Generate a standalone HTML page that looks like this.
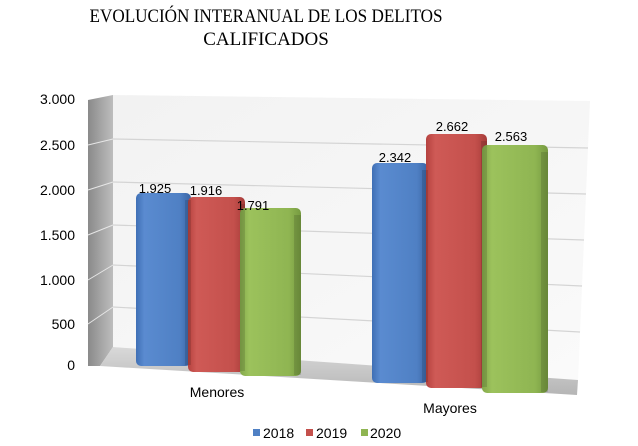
<!DOCTYPE html>
<html><head><meta charset="utf-8"><style>body{margin:0;background:#fff}svg{display:block}</style></head><body>
<svg width="638" height="446" viewBox="0 0 638 446" xmlns="http://www.w3.org/2000/svg">
<defs>
<linearGradient id="side" x1="0" x2="1"><stop offset="0" stop-color="#8a8a8a"/><stop offset="1" stop-color="#bdbdbd"/></linearGradient>
<linearGradient id="wall" x1="0" x2="1" y1="0" y2="1"><stop offset="0" stop-color="#f2f2f2"/><stop offset="1" stop-color="#fafafa"/></linearGradient>
<linearGradient id="floor" x1="0" x2="0" y1="0" y2="1"><stop offset="0" stop-color="#d9d9d9"/><stop offset="1" stop-color="#b5b5b5"/></linearGradient>
<linearGradient id="gb" x1="0" x2="1"><stop offset="0" stop-color="#3f6fb5"/><stop offset=".15" stop-color="#5a8bd0"/><stop offset=".8" stop-color="#4f80c4"/><stop offset="1" stop-color="#3a64a4"/></linearGradient>
<linearGradient id="gr" x1="0" x2="1"><stop offset="0" stop-color="#b5423f"/><stop offset=".15" stop-color="#cf5a56"/><stop offset=".8" stop-color="#c4504c"/><stop offset="1" stop-color="#a63c39"/></linearGradient>
<linearGradient id="gg" x1="0" x2="1"><stop offset="0" stop-color="#83a84a"/><stop offset=".15" stop-color="#9cc25c"/><stop offset=".8" stop-color="#8fb552"/><stop offset="1" stop-color="#769a40"/></linearGradient>
</defs>
<text x="266" y="22" text-anchor="middle" font-family="Liberation Serif, serif" font-size="19" textLength="353" lengthAdjust="spacingAndGlyphs">EVOLUCIÓN INTERANUAL DE LOS DELITOS</text>
<text x="266" y="45" text-anchor="middle" font-family="Liberation Serif, serif" font-size="19">CALIFICADOS</text>
<!-- walls -->
<polygon points="113,95 590,101 578,380 113,347" fill="url(#wall)"/>
<polygon points="88,100 113,95 113,347 100,366 88,366" fill="url(#side)"/>
<polygon points="113,347 578,380 577,395 100,366" fill="url(#floor)"/>
<g stroke="#d4d4d4" stroke-width="1.2" fill="none">
<line x1="113" y1="139" x2="588" y2="148"/>
<line x1="113" y1="182" x2="586" y2="194"/>
<line x1="113" y1="225" x2="584" y2="240"/>
<line x1="113" y1="265" x2="582" y2="286"/>
<line x1="113" y1="307" x2="580" y2="332"/>
</g>
<g stroke="#e6e6e6" stroke-width="1">
<line x1="88" y1="145" x2="113" y2="139"/><line x1="88" y1="190" x2="113" y2="182"/><line x1="88" y1="235" x2="113" y2="225"/><line x1="88" y1="280" x2="113" y2="265"/><line x1="88" y1="324" x2="113" y2="307"/>
</g>
<g font-family="Liberation Sans, sans-serif" font-size="14" fill="#000" text-anchor="end">
<text x="75" y="104">3.000</text><text x="75" y="150">2.500</text><text x="75" y="195">2.000</text><text x="75" y="240">1.500</text><text x="75" y="285">1.000</text><text x="75" y="329">500</text><text x="75" y="370">0</text>
</g>
<!-- bars -->
<g>
<rect x="136" y="193" width="55" height="173" rx="5" fill="url(#gb)"/>
<rect x="188" y="197" width="57" height="175" rx="5" fill="url(#gr)"/>
<rect x="240" y="208" width="61" height="168" rx="5" fill="url(#gg)"/>
<rect x="372" y="163" width="56" height="220" rx="5" fill="url(#gb)"/>
<rect x="426" y="134" width="61" height="254" rx="5" fill="url(#gr)"/>
<rect x="482" y="145" width="66" height="248" rx="5" fill="url(#gg)"/>
</g>
<g fill="#000" opacity=".12">
<rect x="185" y="200" width="6" height="165"/><rect x="240" y="204" width="5" height="167"/><rect x="294" y="215" width="7" height="160"/>
<rect x="422" y="170" width="6" height="212"/><rect x="481" y="141" width="6" height="246"/><rect x="541" y="152" width="7" height="240"/>
</g>
<g font-family="Liberation Sans, sans-serif" font-size="13" fill="#000" text-anchor="middle">
<text x="155" y="193">1.925</text><text x="206" y="195">1.916</text><text x="253" y="210">1.791</text>
<text x="395" y="162">2.342</text><text x="452" y="131">2.662</text><text x="511" y="141">2.563</text>
</g>
<g font-family="Liberation Sans, sans-serif" font-size="14" fill="#000" text-anchor="middle">
<text x="217" y="397">Menores</text><text x="450" y="413">Mayores</text>
</g>
<g font-family="Liberation Sans, sans-serif" font-size="14" fill="#000">
<rect x="253" y="429" width="7" height="7" fill="#4f80c4"/><text x="263" y="438">2018</text>
<rect x="306" y="429" width="7" height="7" fill="#c4504c"/><text x="316" y="438">2019</text>
<rect x="361" y="429" width="7" height="7" fill="#8fb552"/><text x="370" y="438">2020</text>
</g>
</svg>
</body></html>
